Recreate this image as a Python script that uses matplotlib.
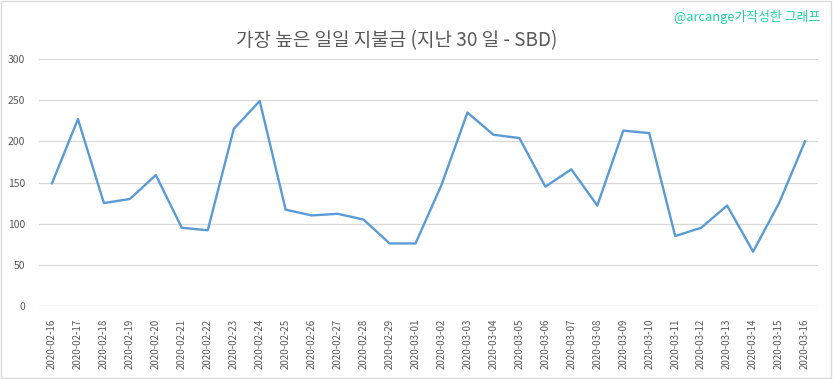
import matplotlib
matplotlib.use("Agg")
import matplotlib.pyplot as plt
from matplotlib.patches import Rectangle

plt.rcParams['font.family'] = ['Noto Sans CJK KR', 'DejaVu Sans']

# daily dates and highest daily payout (SBD)
dates = ['2020-02-16', '2020-02-17', '2020-02-18', '2020-02-19', '2020-02-20',
         '2020-02-21', '2020-02-22', '2020-02-23', '2020-02-24', '2020-02-25',
         '2020-02-26', '2020-02-27', '2020-02-28', '2020-02-29', '2020-03-01',
         '2020-03-02', '2020-03-03', '2020-03-04', '2020-03-05', '2020-03-06',
         '2020-03-07', '2020-03-08', '2020-03-09', '2020-03-10', '2020-03-11',
         '2020-03-12', '2020-03-13', '2020-03-14', '2020-03-15', '2020-03-16']
payouts = [149, 227, 125, 130, 159, 95, 92, 215, 249, 117,
           110, 112, 105, 76, 76, 147, 235, 208, 204, 145,
           166, 122, 213, 210, 85, 95, 122, 66, 125, 200]
y_ticks = [0, 50, 100, 150, 200, 250, 300]

title = '가장 높은 일일 지불금 (지난 30 일 - SBD)'
credit = '@arcange가작성한 그래프'

grey = '#595959'
fig = plt.figure(figsize=(8.33, 3.79), dpi=100)
ax = fig.add_axes([0.0468, 0.1926, 0.9352, 0.6517])

x = range(len(dates))
ax.plot(x, payouts, color='#5B9BD5', linewidth=1.7)

ax.set_xlim(-0.5, len(dates) - 0.5)
ax.set_ylim(0, 300)
ax.set_yticks(y_ticks)
ax.set_xticks(list(x))
ax.set_xticklabels(dates, rotation=90, fontsize=7, color=grey)
ax.tick_params(axis='y', labelsize=7.5, labelcolor=grey, length=0, pad=10)
ax.tick_params(axis='x', length=0, pad=9)
ax.grid(axis='y', color='#D9D9D9', linewidth=0.9)
ax.set_axisbelow(True)
for s in ax.spines.values():
    s.set_visible(False)
ax.axhline(0, color='#D9D9D9', linewidth=0.9, zorder=0)

fig.text(0.476, 0.893, title, ha='center', va='center', fontsize=13.7, color=grey)
fig.text(0.985, 0.955, credit, ha='right', va='center', fontsize=9.3, color='#1ED3A0')

fig.patches.append(Rectangle((0.001, 0.002), 0.997, 0.995, transform=fig.transFigure,
                             fill=False, edgecolor='#D9D9D9', linewidth=1))

fig.savefig('out.png', dpi=100)
